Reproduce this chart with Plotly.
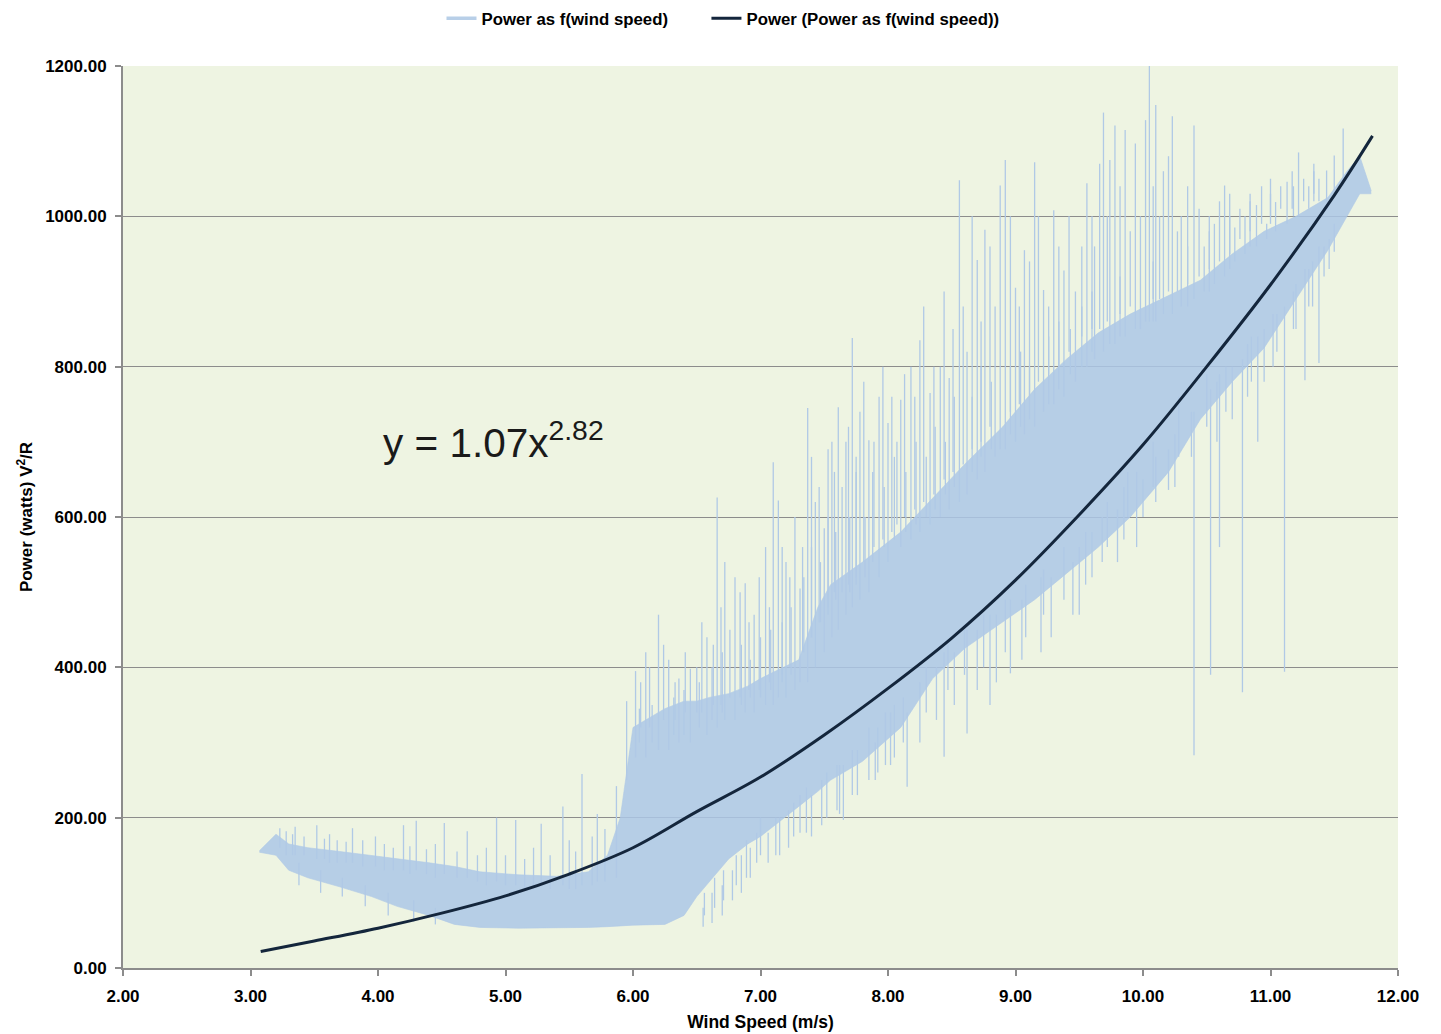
import plotly.graph_objects as go

# ---- data ----
# dense band of the raw "Power as f(wind speed)" series (lower / upper envelope)
band_x     = [3.07, 3.20, 3.30, 3.45, 3.70, 3.95, 4.15, 4.40, 4.60, 4.80, 5.10, 5.40, 5.65, 5.80, 5.90,
              6.00, 6.25, 6.40, 6.50, 6.60, 6.75, 6.90, 7.00, 7.30, 7.45, 7.55, 7.80, 8.10, 8.35, 8.60,
              8.90, 9.15, 9.40, 9.65, 9.90, 10.20, 10.45, 10.70, 10.95, 11.20, 11.45, 11.60, 11.70, 11.79]
band_lower = [154, 150, 130, 120, 108, 95, 82, 70, 58, 54, 53, 53, 54, 55, 56,
              57, 58, 70, 95, 115, 145, 165, 175, 215, 235, 250, 275, 320, 385, 425,
              460, 490, 525, 560, 600, 660, 730, 780, 825, 890, 955, 1000, 1030, 1030]
band_upper = [156, 178, 165, 160, 155, 150, 146, 140, 135, 128, 124, 122, 128, 150, 200,
              320, 345, 355, 355, 360, 365, 375, 385, 410, 480, 510, 540, 580, 625, 670,
              720, 770, 810, 845, 870, 895, 915, 950, 980, 1000, 1025, 1060, 1080, 1034]

# tall spikes of the raw series: x, start value, end value
spike_x    = [3.23, 3.28, 3.35, 3.52, 3.62, 3.80, 3.98, 4.20, 4.30, 4.52, 4.70, 4.93, 5.08, 5.28, 5.45,
              5.60, 5.72, 5.87,
              5.95, 6.02, 6.10, 6.20, 6.28, 6.36, 6.45, 6.58, 6.66, 6.72, 6.80, 6.88, 6.95, 7.04, 7.10,
              7.14, 7.20, 7.27, 7.31, 7.37, 7.43, 7.50, 7.56, 7.61, 7.67, 7.72, 7.78, 7.85, 7.93, 8.00,
              8.10, 8.18, 8.25, 8.33, 8.41, 8.48, 8.56, 8.62, 8.70, 8.76, 8.84, 8.88, 8.92, 9.00, 9.07,
              9.15, 9.22, 9.30, 9.38, 9.47, 9.56, 9.62, 9.69, 9.74, 9.78, 9.86, 9.94, 9.98, 10.02, 10.05,
              10.10, 10.16, 10.23, 10.30, 10.40, 10.48, 10.56, 10.64, 10.72, 10.80, 10.89, 10.97, 11.04,
              11.13, 11.22, 11.30, 11.38, 11.44, 11.50, 11.57,
              7.00, 7.31, 7.65, 7.90, 8.15, 8.44, 8.62, 8.80, 8.96, 9.20, 9.50, 9.80, 10.00, 10.20,
              10.40, 10.53, 10.60, 10.78, 10.90, 11.11, 11.27, 11.38, 11.50]
spike_from = [160, 150, 150, 145, 140, 140, 135, 130, 130, 125, 120, 115, 110, 110, 110,
              110, 115, 120,
              250, 280, 280, 290, 290, 300, 300, 310, 320, 330, 330, 340, 340, 350, 350,
              360, 360, 370, 380, 380, 400, 420, 440, 450, 470, 480, 490, 500, 520, 540,
              560, 570, 580, 590, 600, 610, 620, 630, 650, 660, 680, 690, 690, 700, 710,
              720, 740, 750, 760, 780, 800, 810, 820, 830, 830, 840, 850, 850, 860, 860,
              860, 870, 870, 880, 890, 900, 910, 920, 940, 950, 960, 970, 980,
              990, 1000, 1010, 1020, 1020, 1030, 1040,
              200, 230, 270, 300, 340, 420, 450, 470, 490, 520, 560, 610, 650, 690,
              740, 770, 790, 810, 840, 880, 930, 960, 990]
spike_to   = [186, 182, 188, 190, 178, 186, 175, 190, 196, 193, 182, 200, 197, 192, 215,
              258, 205, 242,
              355, 395, 420, 470, 410, 385, 398, 440, 626, 540, 520, 512, 470, 560, 673,
              622, 540, 600, 505, 745, 620, 585, 700, 746, 700, 838, 740, 702, 760, 725,
              756, 800, 835, 765, 800, 785, 1048, 820, 942, 982, 880, 1041, 1075, 905, 955,
              1072, 902, 1008, 928, 900, 1044, 960, 1138, 1075, 1121, 1115, 1097, 1000, 1128, 1200,
              1148, 1060, 1133, 1000, 1121, 960, 990, 1041, 985, 1000, 1015, 990, 1019,
              1046, 1085, 1040, 1050, 1061, 1081, 1117,
              150, 180, 197, 250, 241, 281, 312, 350, 392, 420, 470, 540, 600, 636,
              283, 390, 560, 367, 700, 394, 782, 805, 953]

# shorter fluctuations of the raw series around the edges of the dense band
fuzz_x    = [3.33, 3.42, 3.58, 3.68, 3.75, 3.88, 4.05, 4.12, 4.25, 4.38, 4.45, 4.62, 4.78, 4.85, 5.00,
             5.15, 5.22, 5.35, 5.50, 5.55, 5.68, 5.78,
             3.38, 3.55, 3.72, 3.90, 4.08, 4.28, 4.45,
             6.05, 6.15, 6.32, 6.40, 6.52, 6.62, 6.70, 6.85, 6.92, 7.00, 7.08, 7.17, 7.24, 7.34, 7.40,
             7.47, 7.53, 7.59, 7.64, 7.70, 7.75, 7.82, 7.88, 7.97, 8.05, 8.14, 8.22, 8.30, 8.37, 8.45,
             8.52, 8.66, 8.73, 8.81, 8.96, 9.04, 9.11, 9.26, 9.34, 9.43, 9.52, 9.60, 9.82, 10.08, 10.35,
             10.52, 10.68, 10.84, 11.00, 11.18, 11.34,
             6.55, 6.62, 6.70, 6.78, 6.85, 6.92, 7.06, 7.15, 7.22, 7.40, 7.48, 7.60, 7.72, 7.85, 7.98,
             8.05, 8.25, 8.38, 8.52, 8.70, 8.85, 9.05, 9.28, 9.45, 9.60, 9.72, 9.88, 10.08, 10.28, 10.50,
             10.65, 10.85, 11.02, 11.18, 11.33, 11.42,
             6.06, 6.13, 6.24, 6.33, 6.41, 6.50, 6.54, 6.63, 6.69, 6.76, 6.84, 6.91, 6.99, 7.07, 7.17,
             7.23, 7.33, 7.40, 7.46, 7.53, 7.58, 7.69, 7.75, 7.81, 7.89, 7.96, 8.03, 8.07, 8.13, 8.21,
             8.28, 8.36, 8.44, 8.51, 8.59, 8.66, 8.73, 8.80, 8.96, 9.03, 9.11, 9.18, 9.26, 9.34, 9.42,
             9.52, 9.60, 9.66, 9.72, 9.82, 9.90, 10.08, 10.13, 10.20, 10.27, 10.35, 10.44, 10.52, 10.60,
             10.68, 10.76, 10.84, 10.93, 11.00, 11.08, 11.17, 11.26, 11.34,
             6.56, 6.64, 6.71, 6.81, 6.89, 6.97, 7.12, 7.26, 7.36, 7.52, 7.62, 7.76, 7.92, 8.02, 8.12,
             8.30, 8.47, 8.60, 8.75, 8.92, 9.08, 9.22, 9.38, 9.55, 9.68, 9.85, 9.95, 10.10, 10.25, 10.38,
             10.58, 10.70, 10.82, 10.95, 11.05, 11.20, 11.30, 11.46]
fuzz_from = [150, 150, 145, 140, 140, 135, 130, 130, 125, 125, 120, 120, 115, 110, 110,
             105, 105, 105, 105, 105, 110, 115,
             140, 130, 120, 110, 100, 90, 80,
             300, 300, 310, 310, 320, 330, 340, 350, 360, 360, 370, 380, 390, 420, 440,
             460, 470, 490, 500, 500, 510, 520, 540, 560, 570, 580, 590, 600, 610, 630,
             640, 660, 680, 690, 710, 720, 730, 750, 770, 790, 800, 820, 840, 860, 880,
             900, 930, 960, 990, 1000, 1020,
             80, 100, 110, 130, 150, 160, 180, 200, 210, 230, 250, 270, 290, 320, 340,
             350, 380, 400, 420, 450, 470, 490, 520, 540, 580, 620, 660, 700, 760, 790,
             800, 840, 870, 900, 940, 960,
             320, 320, 330, 330, 340, 340, 340, 350, 350, 360, 360, 370, 370, 380, 390,
             400, 420, 440, 460, 480, 500, 510, 520, 540, 560, 570, 580, 590, 600, 610,
             620, 630, 650, 660, 670, 690, 700, 720, 740, 750, 760, 780, 790, 800, 820,
             840, 850, 850, 860, 870, 880, 890, 890, 900, 900, 910, 920, 930, 940,
             950, 970, 980, 990, 1000, 1010, 1010, 1020, 1030,
             100, 120, 130, 150, 170, 180, 200, 220, 240, 260, 270, 290, 320, 340, 360,
             400, 430, 450, 470, 490, 510, 530, 560, 580, 600, 640, 660, 680, 710, 740,
             780, 800, 830, 850, 870, 910, 930, 970]
fuzz_to   = [178, 175, 172, 170, 168, 170, 165, 160, 162, 158, 165, 155, 150, 160, 150,
             145, 160, 150, 170, 155, 175, 185,
             110, 100, 95, 82, 70, 62, 58,
             345, 350, 360, 370, 380, 400, 420, 430, 410, 440, 450, 460, 480, 520, 560,
             540, 600, 580, 640, 600, 660, 600, 660, 640, 680, 660, 700, 680, 720, 700,
             760, 760, 800, 780, 800, 820, 800, 840, 860, 850, 880, 900, 920, 940, 960,
             980, 1000, 1020, 1030, 1040, 1060,
             55, 60, 70, 90, 100, 120, 140, 150, 160, 175, 190, 210, 230, 250, 270,
             280, 300, 330, 350, 370, 380, 410, 440, 470, 520, 560, 600, 640, 680, 720,
             740, 780, 800, 850, 880, 920,
             380, 400, 430, 380, 420, 400, 460, 430, 480, 450, 500, 460, 520, 480, 560,
             520, 560, 680, 640, 690, 660, 720, 680, 780, 700, 800, 760, 700, 790, 760,
             880, 800, 900, 850, 880, 1000, 860, 960, 1000, 880, 940, 1000, 880, 960, 1000,
             960, 1000, 1070, 1000, 1040, 980, 1040, 1000, 1080, 980, 1040, 1010, 1000, 1020,
             1030, 1010, 1030, 1040, 1050, 1040, 1060, 1050, 1070,
             70, 80, 90, 110, 120, 140, 150, 175, 180, 200, 205, 230, 260, 270, 300,
             340, 370, 390, 400, 420, 440, 470, 490, 510, 540, 570, 560, 620, 640, 680,
             700, 730, 760, 780, 820, 850, 880, 930]

# power trend line
trend_x = [3.08, 3.5, 4.0, 4.5, 5.0, 5.5, 6.0, 6.5, 7.0, 7.5, 8.0, 8.5, 9.0, 9.5, 10.0, 10.5, 11.0, 11.5, 11.8]
trend_y = [22, 36, 53, 73, 96, 125, 160, 208, 254, 310, 372, 439, 516, 603, 696, 800, 909, 1028, 1107]

x_ticks = [2, 3, 4, 5, 6, 7, 8, 9, 10, 11, 12]
y_ticks = [0, 200, 400, 600, 800, 1000, 1200]

# ---- build figure ----
BAND = "rgba(172,199,230,0.85)"
SPIKE = "#B0C9E6"
NAVY = "#14263C"
FONT = "Liberation Sans, Arial, sans-serif"

sx, sy = [], []
for x, a, b in zip(spike_x + fuzz_x, spike_from + fuzz_from, spike_to + fuzz_to):
    sx += [x, x, None]
    sy += [a, b, None]

fig = go.Figure()
fig.add_trace(go.Scatter(x=band_x, y=band_lower, mode="lines", line=dict(width=0.6, color=SPIKE),
                         showlegend=False, hoverinfo="skip", legendgroup="raw"))
fig.add_trace(go.Scatter(x=band_x, y=band_upper, mode="lines", line=dict(width=0.6, color=SPIKE),
                         fill="tonexty", fillcolor=BAND, showlegend=False, hoverinfo="skip", legendgroup="raw"))
fig.add_trace(go.Scatter(x=sx, y=sy, mode="lines", line=dict(width=1.3, color=SPIKE),
                         showlegend=False, legendgroup="raw", name="Power as f(wind speed)"))
# legend entry for the raw series (drawn with a thicker line, as in the reference legend)
fig.add_trace(go.Scatter(x=[None], y=[None], mode="lines", line=dict(width=3.5, color="#B8CFE8"),
                         legendgroup="raw", name="Power as f(wind speed)", legend="legend"))
fig.add_trace(go.Scatter(x=trend_x, y=trend_y, mode="lines", line=dict(width=3, color=NAVY, shape="spline"),
                         name="Power (Power as f(wind speed))", legend="legend2"))

tickfont = dict(family=FONT, size=17, color="#000000", weight="bold")
legfont = dict(size=16.8, weight="bold")

# the page body adds an 8 px offset, so the figure is 8 px smaller than the window
fig.update_layout(
    width=1433, height=1026,
    margin=dict(l=115, r=43, t=58, b=66),
    paper_bgcolor="white",
    plot_bgcolor="#EEF4E2",
    font=dict(family=FONT, color="#000000"),
    legend=dict(orientation="h", x=0.2498, y=0.99, xref="paper", yref="container",
                xanchor="left", yanchor="middle", bgcolor="rgba(0,0,0,0)", font=legfont),
    legend2=dict(orientation="h", x=0.4576, y=0.99, xref="paper", yref="container",
                 xanchor="left", yanchor="middle", bgcolor="rgba(0,0,0,0)", font=legfont),
    xaxis=dict(range=[2, 12], tickvals=x_ticks, tickformat=".2f", tickfont=tickfont, automargin=False,
               showgrid=False, zeroline=False, showline=True, linecolor="#8C8C8C", linewidth=2,
               ticks="outside", ticklen=6, tickcolor="#8C8C8C", tickwidth=2, ticklabelstandoff=6,
               title=dict(text="Wind Speed (m/s)", font=dict(size=17.5, weight="bold"), standoff=10)),
    yaxis=dict(range=[0, 1200], tickvals=y_ticks, tickformat=".2f", tickfont=tickfont, automargin=False,
               showgrid=True, gridcolor="#8C8C8C", gridwidth=1, zeroline=False,
               showline=True, linecolor="#8C8C8C", linewidth=2,
               ticks="outside", ticklen=6, tickcolor="#8C8C8C", tickwidth=2, ticklabelstandoff=5,
               title=dict(text="Power (watts) V<sup>2</sup>/R", font=dict(size=17, weight="bold"), standoff=8)),
    annotations=[dict(x=4.02, y=702, xref="x", yref="y", xanchor="left", yanchor="middle",
                      text="y = 1.07x<sup>2.82</sup>", showarrow=False,
                      font=dict(family=FONT, size=40.5, color="#1a1a1a"))],
)

fig.write_html("out.html")
